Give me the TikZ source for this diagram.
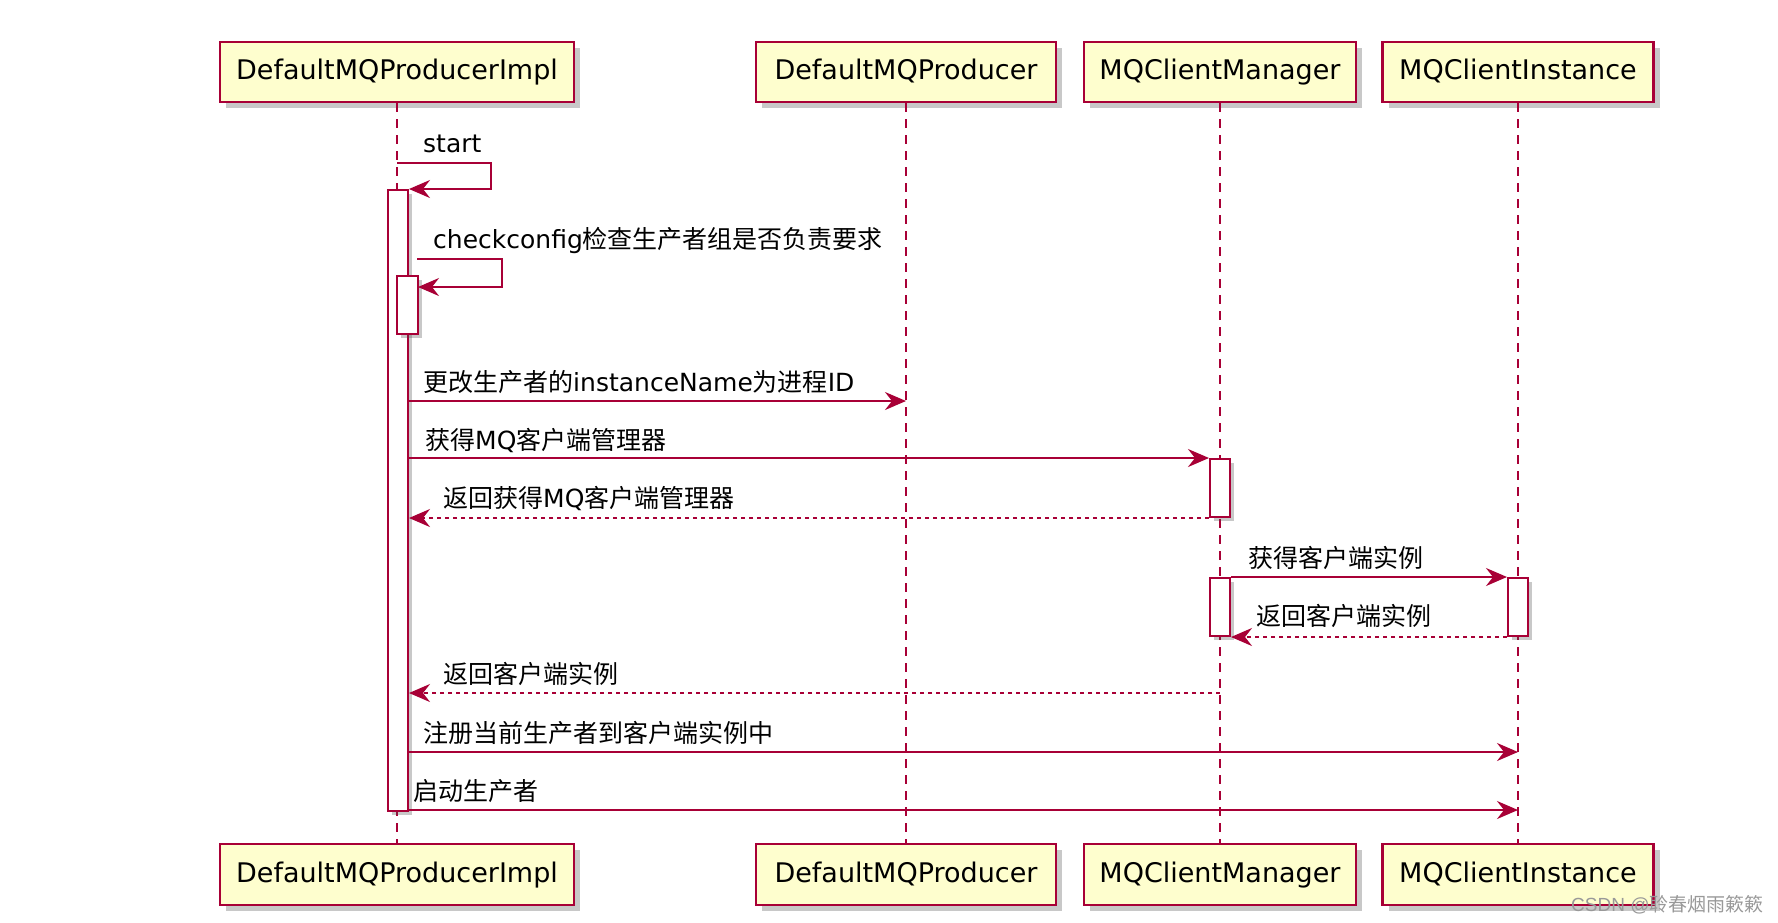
\documentclass[tikz,border=0pt]{standalone}
\usepackage{fontspec}
\setmainfont{DejaVu Sans}
\newfontfamily\cjk{Noto Sans CJK SC}
\newfontfamily\wmfont{Liberation Sans}
\usetikzlibrary{arrows.meta,shadows}
\definecolor{umlred}{HTML}{A80036}
\definecolor{umlfill}{HTML}{FEFECE}
\tikzset{
 part/.style={draw=umlred, line width=2.5pt, fill=umlfill, minimum height=60pt, inner sep=0pt,
   text height=20pt, text depth=5pt,
   font=\fontsize{27}{32}\selectfont,
   drop shadow={shadow xshift=6pt, shadow yshift=-6pt, opacity=0.3, fill=black!70}},
 actbox/.style={draw=umlred, line width=2pt, fill=white, minimum width=20pt, inner sep=0pt,
   drop shadow={shadow xshift=4pt, shadow yshift=-4pt, opacity=0.3, fill=black!70}},
 life/.style={draw=umlred, line width=2pt, dash pattern=on 9pt off 7pt},
 msg/.style={draw=umlred, line width=2pt, -{Stealth[length=21pt,width=18pt,inset=7pt]}},
 ret/.style={msg, dash pattern=on 4pt off 4pt},
 lbl/.style={anchor=base west, inner sep=0pt, font=\fontsize{25}{30}\selectfont},
}
\begin{document}
\begin{tikzpicture}[x=1pt,y=-1pt]
\useasboundingbox (0,0) rectangle (1778,922);
\fill[white] (0,0) rectangle (1778,922);

% participants
\node[part, minimum width=354pt] (pA)  at (397,72) {DefaultMQProducerImpl};
\node[part, minimum width=300pt] (pB)  at (906,72) {DefaultMQProducer};
\node[part, minimum width=272pt] (pC)  at (1220,72) {MQClientManager};
\node[part, minimum width=271pt] (pD)  at (1518,72) {MQClientInstance};
\node[part, minimum width=354pt, minimum height=61pt] (pAb) at (397,874.5) {DefaultMQProducerImpl};
\node[part, minimum width=300pt, minimum height=61pt] (pBb) at (906,874.5) {DefaultMQProducer};
\node[part, minimum width=272pt, minimum height=61pt] (pCb) at (1220,874.5) {MQClientManager};
\node[part, minimum width=271pt, minimum height=61pt] (pDb) at (1518,874.5) {MQClientInstance};

% lifelines
\draw[life] (pA.south) -- (pAb.north);
\draw[life] (pB.south) -- (pBb.north);
\draw[life] (pC.south) -- (pCb.north);
\draw[life] (pD.south) -- (pDb.north);

% activations
\node[actbox, minimum height=621pt] (actA)  at (398,500.5) {};
\node[actbox, minimum height=58pt, minimum width=21pt] (actA2) at (407.5,305) {};
\node[actbox, minimum height=58pt] (actM1) at (1220,488) {};
\node[actbox, minimum height=58pt] (actM2) at (1220,607) {};
\node[actbox, minimum height=58pt] (actI)  at (1518,607) {};

% 1 start
\coordinate (s1) at (397,163);
\draw[msg] (s1) -- (491,163) |- (actA.north east);
\node[lbl] (l1) at (423,152) {start};

% 2 checkconfig
\coordinate (s2) at (417,259);
\coordinate (e2) at (418,287);
\draw[msg] (s2) -- (502,259) |- (e2);
\node[lbl] (l2) at (433,248) {checkconfig{\cjk 检查生产者组是否负责要求}};

% 3
\coordinate (e3) at (906,401);
\draw[msg] (actA.east |- e3) -- (e3);
\node[lbl] (l3) at (423,391) {{\cjk 更改生产者的}instanceName{\cjk 为进程}ID};

% 4
\draw[msg] (actA.east |- actM1.north west) -- (actM1.north west);
\node[lbl] (l4) at (425,449) {{\cjk 获得}MQ{\cjk 客户端管理器}};

% 5
\draw[ret] (actM1.south west) -- (actA.east |- actM1.south west);
\node[lbl] (l5) at (443,507) {{\cjk 返回获得}MQ{\cjk 客户端管理器}};

% 6
\draw[msg] (actM2.north east) -- (actI.north west);
\node[lbl] (l6) at (1248,567) {\cjk 获得客户端实例};

% 7
\draw[ret] (actI.south west) -- (actM2.south east);
\node[lbl] (l7) at (1256,625) {\cjk 返回客户端实例};

% 8
\coordinate (s8) at (1220,693);
\draw[ret] (s8) -- (actA.east |- s8);
\node[lbl] (l8) at (443,683) {\cjk 返回客户端实例};

% 9
\coordinate (e9) at (1518,752);
\draw[msg] (actA.east |- e9) -- (e9);
\node[lbl] (l9) at (423,742) {\cjk 注册当前生产者到客户端实例中};

% 10
\coordinate (e10) at (1518,810);
\draw[msg] (actA.east |- e10) -- (e10);
\node[lbl] (l10) at (413,800) {\cjk 启动生产者};

% watermark
\node[anchor=base west, inner sep=0pt, text=black!40, font=\fontsize{19}{22}\selectfont] (wm) at (1571,911)
  {\wmfont CSDN @{\cjk 聆春烟雨簌簌}};
\end{tikzpicture}
\end{document}
